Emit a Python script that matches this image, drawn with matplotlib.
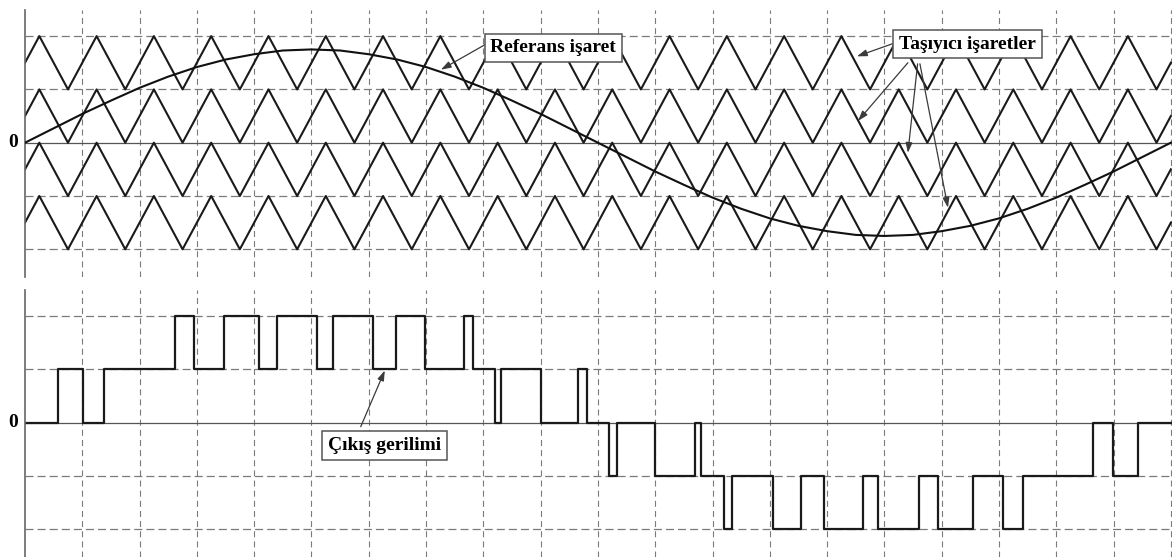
import matplotlib.pyplot as plt

plt.rcParams['font.family'] = ['Liberation Serif', 'DejaVu Serif']
plt.rcParams['lines.scale_dashes'] = False

# x axis in carrier periods (20 carrier periods = one reference cycle)
# reference signal, read every half period
ref_t = [0.0, 0.5, 1.0, 1.5, 2.0, 2.5, 3.0, 3.5, 4.0, 4.5, 5.0, 5.5, 6.0, 6.5,
         7.0, 7.5, 8.0, 8.5, 9.0, 9.5, 10.0, 10.5, 11.0, 11.5, 12.0, 12.5, 13.0,
         13.5, 14.0, 14.5, 15.0, 15.5, 16.0, 16.5, 17.0, 17.5, 18.0, 18.5, 19.0,
         19.5, 20.0]
ref_v = [0.00, 0.27, 0.54, 0.79, 1.03, 1.24, 1.42, 1.56, 1.66, 1.73, 1.75,
         1.73, 1.66, 1.56, 1.42, 1.24, 1.03, 0.79, 0.54, 0.27, 0.00,
         -0.27, -0.54, -0.79, -1.03, -1.24, -1.42, -1.56, -1.66, -1.73, -1.75,
         -1.73, -1.66, -1.56, -1.42, -1.24, -1.03, -0.79, -0.54, -0.27, 0.00]

# triangle carrier corners (same for the 4 level-shifted carriers)
carrier_t = [0.0, 0.25, 0.75, 1.25, 1.75, 2.25, 2.75, 3.25, 3.75, 4.25, 4.75,
             5.25, 5.75, 6.25, 6.75, 7.25, 7.75, 8.25, 8.75, 9.25, 9.75,
             10.25, 10.75, 11.25, 11.75, 12.25, 12.75, 13.25, 13.75, 14.25,
             14.75, 15.25, 15.75, 16.25, 16.75, 17.25, 17.75, 18.25, 18.75,
             19.25, 19.75, 20.0]
carrier_v = [0.5, 1, 0, 1, 0, 1, 0, 1, 0, 1, 0, 1, 0, 1, 0, 1, 0, 1, 0, 1, 0,
             1, 0, 1, 0, 1, 0, 1, 0, 1, 0, 1, 0, 1, 0, 1, 0, 1, 0, 1, 0, 0.5]
carrier_base = [1, 0, -1, -2]

# output voltage: switching instants and level after each switch
out_t = [0.0, 0.58, 1.01, 1.38, 2.62, 2.95, 3.47, 4.08, 4.40, 5.10, 5.38,
         6.07, 6.48, 6.98, 7.66, 7.82, 8.20, 8.31, 9.01, 9.65, 9.81, 10.19,
         10.33, 11.00, 11.69, 11.80, 12.20, 12.34, 13.05, 13.54, 13.94, 14.63,
         14.89, 15.60, 15.93, 16.55, 17.07, 17.42, 18.64, 18.99, 19.42, 20.0]
out_v = [0, 1, 0, 1, 2, 1, 2, 1, 2, 1, 2, 1, 2, 1, 2, 1, 0, 1, 0, 1, 0, -1,
         0, -1, 0, -1, -2, -1, -2, -1, -2, -1, -2, -1, -2, -1, -2, -1, 0, -1,
         0, 0]

levels = [-2, -1, 1, 2]
grid_x = list(range(1, 21))

W, H = 1172, 557
fig = plt.figure(figsize=(W / 100, H / 100), dpi=100)
ax1 = fig.add_axes([25 / W, 1 - 277 / H, 1 - 25 / W, 267 / H])
ax2 = fig.add_axes([25 / W, 0, 1 - 25 / W, 267 / H])

dash_h = (0, (5.8, 2.9))
dash_v = (0, (4.3, 3.0))

for ax in (ax1, ax2):
    ax.set_xlim(0, 20.02)
    ax.set_ylim(-2.52, 2.49)
    for s in ['top', 'right', 'bottom']:
        ax.spines[s].set_visible(False)
    ax.spines['left'].set_color('#666666')
    ax.spines['left'].set_linewidth(1.2)
    ax.set_xticks([])
    ax.set_yticks([])
    for y in levels:
        ax.axhline(y, color='#7a7a7a', lw=0.9, ls=dash_h, zorder=1)
    for x in grid_x:
        ax.axvline(x, color='#7a7a7a', lw=0.8, ls=dash_v, zorder=1)
    ax.axhline(0, color='#555555', lw=0.9, zorder=1)
    ax.text(-0.13, 0, '0', ha='right', va='center', fontsize=14,
            fontweight='bold')

# top: carriers and reference
for b in carrier_base:
    ax1.plot(carrier_t, [v + b for v in carrier_v], color='#1a1a1a', lw=1.5,
             zorder=2)
ax1.plot(ref_t, ref_v, color='#111111', lw=1.5, zorder=3)

# bottom: output voltage
ax2.step(out_t, out_v, where='post', color='#1a1a1a', lw=1.6, zorder=2)

box = dict(boxstyle='square,pad=0.3', facecolor='white', edgecolor='#555555',
           lw=1.1)
arrow = dict(arrowstyle='-|>,head_length=0.6,head_width=0.2',
             color='#3a3a3a', lw=0.9, shrinkA=0, shrinkB=0)

ax1.text(9.22, 1.78, 'Referans işaret', ha='center', va='center',
         fontsize=14, fontweight='bold', bbox=box, zorder=6)
ax1.annotate('', xy=(7.26, 1.37), xytext=(8.03, 1.84), arrowprops=arrow,
             zorder=5)

ax1.text(16.45, 1.85, 'Taşıyıcı işaretler', ha='center', va='center',
         fontsize=14, fontweight='bold', bbox=box, zorder=6)
tails = [(15.15, 1.86), (15.41, 1.50), (15.58, 1.48), (15.62, 1.48)]
tips = [(14.52, 1.62), (14.54, 0.41), (15.41, -0.19), (16.11, -1.22)]
for tail, tip in zip(tails, tips):
    ax1.annotate('', xy=tip, xytext=tail, arrowprops=arrow, zorder=5)

ax2.text(6.28, -0.43, 'Çıkış gerilimi', ha='center', va='center',
         fontsize=14, fontweight='bold', bbox=box, zorder=6)
ax2.annotate('', xy=(6.28, 0.98), xytext=(5.86, -0.075), arrowprops=arrow,
             zorder=5)

fig.savefig('out.png', dpi=100)
